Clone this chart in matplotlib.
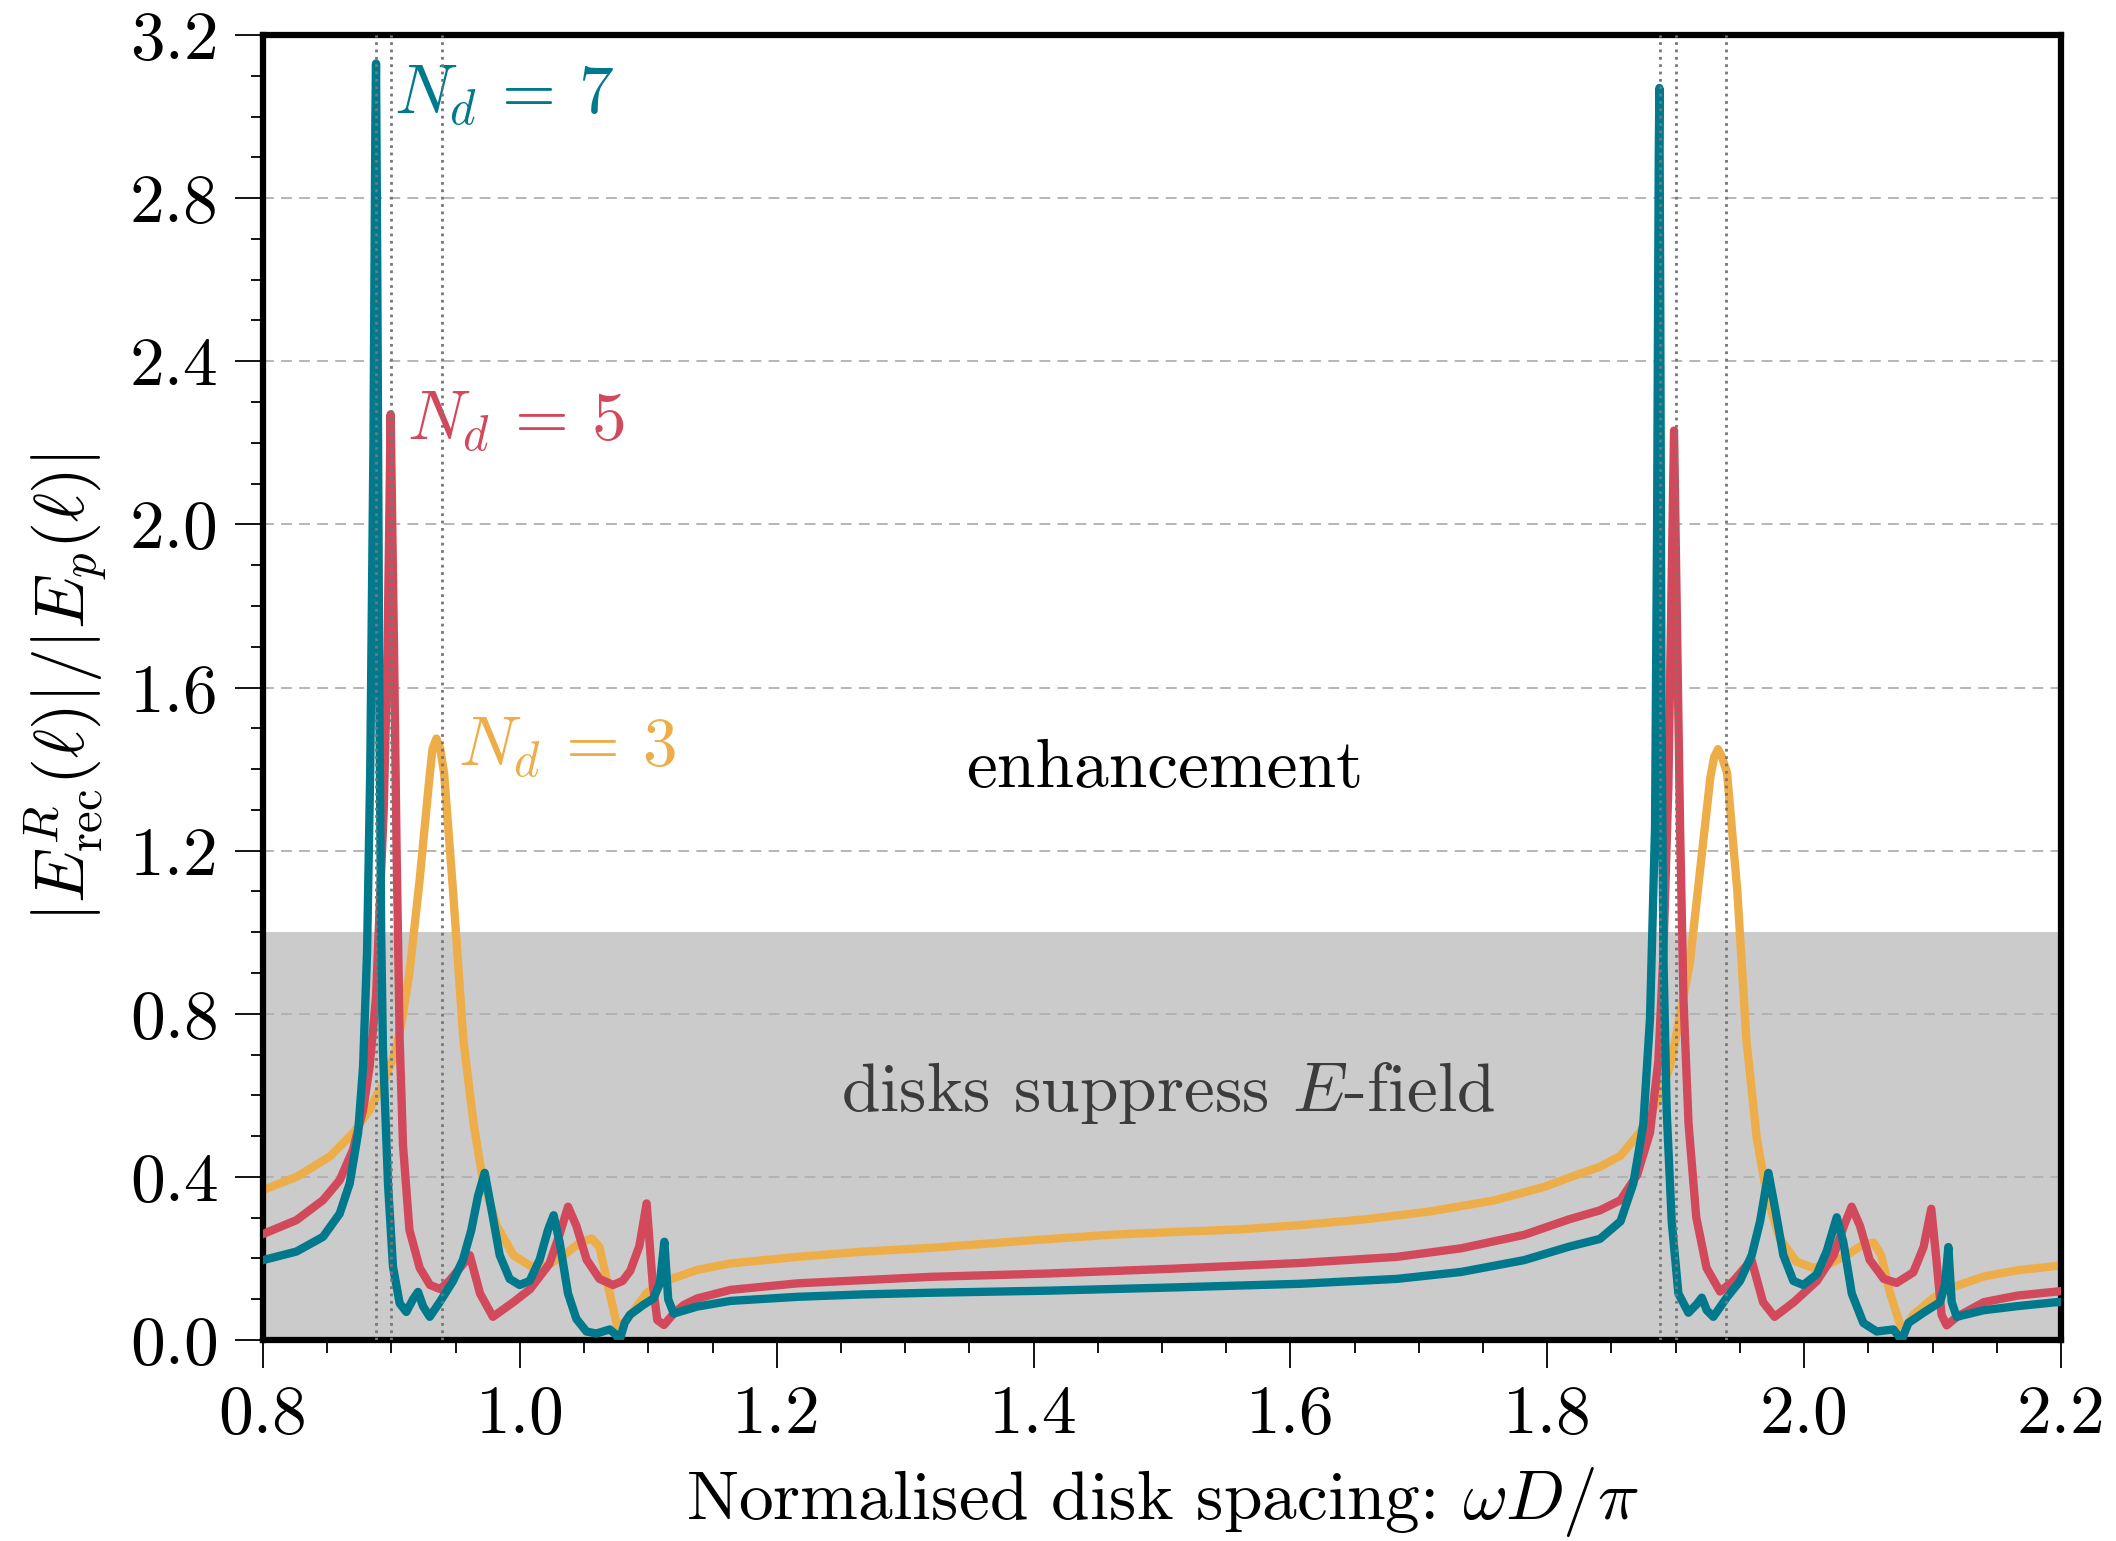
import numpy as np
import matplotlib
matplotlib.use("Agg")
import matplotlib.pyplot as plt

plt.rcParams['font.family'] = 'serif'
plt.rcParams['font.serif'] = ['cmr10']
plt.rcParams['mathtext.fontset'] = 'cm'
plt.rcParams['axes.formatter.use_mathtext'] = True

# N_d = 3
x_n3 = [0.800, 0.826, 0.852, 0.870, 0.883, 0.8934, 0.9025, 0.908, 0.914, 0.922, 0.929,
        0.932, 0.935, 0.938, 0.941, 0.948, 0.956, 0.964, 0.971, 0.982, 0.995, 1.008,
        1.021, 1.034, 1.047, 1.056, 1.062, 1.070, 1.076, 1.080, 1.0857, 1.0987, 1.1117,
        1.138, 1.164, 1.216, 1.268, 1.320, 1.400, 1.459, 1.509, 1.559, 1.608, 1.658,
        1.708, 1.758, 1.797, 1.822, 1.841, 1.857, 1.872, 1.885, 1.896, 1.903, 1.911,
        1.919, 1.927, 1.930, 1.933, 1.936, 1.940, 1.948, 1.955, 1.963, 1.971, 1.981,
        1.994, 2.007, 2.020, 2.033, 2.046, 2.054, 2.060, 2.067, 2.075, 2.079, 2.085,
        2.101, 2.116, 2.140, 2.166, 2.200]
y_n3 = [0.368, 0.400, 0.450, 0.507, 0.564, 0.630, 0.700, 0.780, 0.900, 1.130, 1.360,
        1.450, 1.475, 1.450, 1.390, 1.100, 0.737, 0.530, 0.395, 0.280, 0.208, 0.182,
        0.182, 0.208, 0.239, 0.249, 0.228, 0.114, 0.031, 0.040, 0.060, 0.115, 0.143,
        0.172, 0.188, 0.204, 0.217, 0.226, 0.245, 0.258, 0.265, 0.271, 0.282, 0.296,
        0.315, 0.342, 0.375, 0.404, 0.425, 0.452, 0.509, 0.580, 0.675, 0.790, 0.924,
        1.153, 1.380, 1.430, 1.449, 1.430, 1.390, 1.100, 0.737, 0.498, 0.353, 0.249,
        0.192, 0.177, 0.187, 0.208, 0.234, 0.239, 0.208, 0.114, 0.036, 0.031, 0.062,
        0.104, 0.130, 0.156, 0.171, 0.183]

# N_d = 5
x_n5 = [0.800, 0.826, 0.8467, 0.8597, 0.870, 0.8779, 0.883, 0.888, 0.892, 0.894, 0.897,
        0.8994, 0.902, 0.904, 0.9064, 0.909, 0.914, 0.922, 0.930, 0.938, 0.945, 0.956,
        0.961, 0.969, 0.979, 0.995, 1.008, 1.023, 1.031, 1.0375, 1.044, 1.052, 1.062,
        1.0725, 1.080, 1.086, 1.093, 1.0987, 1.1034, 1.107, 1.1122, 1.1198, 1.1276,
        1.138, 1.164, 1.216, 1.268, 1.320, 1.410, 1.509, 1.608, 1.683, 1.733, 1.782,
        1.817, 1.841, 1.857, 1.870, 1.880, 1.8865, 1.8904, 1.8943, 1.8987, 1.9034,
        1.906, 1.910, 1.916, 1.924, 1.9345, 1.945, 1.959, 1.968, 1.977, 1.992, 2.010,
        2.023, 2.031, 2.037, 2.0435, 2.051, 2.062, 2.072, 2.085, 2.093, 2.099, 2.103,
        2.107, 2.111, 2.119, 2.140, 2.166, 2.200]
y_n5 = [0.260, 0.294, 0.343, 0.392, 0.466, 0.564, 0.670, 0.841, 1.150, 1.300, 1.700,
        2.270, 1.700, 1.200, 0.737, 0.478, 0.270, 0.177, 0.135, 0.125, 0.145, 0.187,
        0.208, 0.114, 0.057, 0.093, 0.125, 0.187, 0.260, 0.327, 0.280, 0.197, 0.150,
        0.135, 0.145, 0.170, 0.230, 0.335, 0.139, 0.049, 0.037, 0.065, 0.086,
        0.102, 0.123, 0.139, 0.147, 0.155, 0.163, 0.175, 0.189, 0.204, 0.225, 0.258,
        0.296, 0.318, 0.343, 0.405, 0.509, 0.685, 0.945, 1.360, 2.230, 1.257,
        0.840, 0.530, 0.301, 0.177, 0.119, 0.145, 0.197, 0.093, 0.057, 0.093, 0.145,
        0.208, 0.280, 0.327, 0.280, 0.197, 0.150, 0.140, 0.166, 0.228, 0.322, 0.197,
        0.062, 0.036, 0.057, 0.093, 0.109, 0.120]

# N_d = 7
x_n7 = [0.800, 0.826, 0.8467, 0.8597, 0.8675, 0.874, 0.8779, 0.881, 0.8835, 0.886,
        0.8875, 0.888, 0.889, 0.8905, 0.892, 0.8934, 0.8973, 0.9012, 0.9064, 0.9116,
        0.9168, 0.9207, 0.9246, 0.9298, 0.9376, 0.948, 0.9557, 0.9622, 0.9674, 0.9726,
        0.9778, 0.9843, 0.992, 0.9998, 1.0076, 1.0154, 1.0219, 1.0263, 1.031, 1.0375,
        1.044, 1.0518, 1.0595, 1.070, 1.0738, 1.0777, 1.0816, 1.0857, 1.096, 1.104,
        1.109, 1.1125, 1.1155, 1.1198, 1.138, 1.164, 1.216, 1.268, 1.320, 1.410, 1.509,
        1.608, 1.683, 1.733, 1.782, 1.817, 1.841, 1.857, 1.867, 1.8748, 1.880, 1.8839,
        1.8855, 1.8868, 1.8873, 1.888, 1.889, 1.8904, 1.893, 1.8969, 1.9021, 1.9099,
        1.9164, 1.9203, 1.9242, 1.9293, 1.9397, 1.9501, 1.9592, 1.9657, 1.9722, 1.9774,
        1.9838, 1.9916, 1.9994, 2.0098, 2.0176, 2.0254, 2.0306, 2.0371, 2.0461, 2.0565,
        2.0695, 2.076, 2.0812, 2.0929, 2.1058, 2.1097, 2.1123, 2.1149, 2.1188, 2.1396,
        2.1655, 2.200]
y_n7 = [0.196, 0.217, 0.253, 0.310, 0.384, 0.507, 0.670, 0.950, 1.400, 2.200,
        3.000, 3.130, 2.600, 1.600, 1.000, 0.710, 0.384, 0.180, 0.090, 0.069,
        0.100, 0.118, 0.083, 0.057, 0.093, 0.145, 0.197, 0.270, 0.353, 0.410,
        0.322, 0.208, 0.150, 0.135, 0.145, 0.197, 0.270, 0.306, 0.239, 0.114,
        0.052, 0.021, 0.016, 0.026, 0.016, 0.000, 0.042, 0.062, 0.086, 0.102,
        0.139, 0.241, 0.100, 0.065, 0.082, 0.096, 0.106, 0.112, 0.116, 0.121, 0.129,
        0.138, 0.150, 0.167, 0.196, 0.229, 0.248, 0.291, 0.384, 0.530, 0.789, 1.257,
        2.000, 2.900, 3.070, 2.500, 1.500, 0.945, 0.560, 0.290, 0.114, 0.067,
        0.088, 0.104, 0.073, 0.057, 0.104, 0.145, 0.208, 0.291, 0.410, 0.322,
        0.208, 0.145, 0.135, 0.161, 0.218, 0.301, 0.239, 0.114, 0.042, 0.021,
        0.026, 0.000, 0.042, 0.067, 0.093, 0.135, 0.228, 0.093, 0.057, 0.073,
        0.083, 0.094]

resonances = [0.888, 0.900, 0.939, 1.888, 1.900, 1.939]

x_ticks = [0.8, 1.0, 1.2, 1.4, 1.6, 1.8, 2.0, 2.2]
y_ticks = [0.0, 0.4, 0.8, 1.2, 1.6, 2.0, 2.4, 2.8, 3.2]

c3, c5, c7 = '#edae49', '#d1495b', '#00798c'

fig = plt.figure(figsize=(21.16, 15.41), dpi=100)
ax = fig.add_axes([0.1243, 0.1304, 0.8497, 0.8469])

ax.axhspan(0, 1, color='#cbcbcb', lw=0, zorder=0)

ax.plot(x_n3, y_n3, color=c3, lw=6, zorder=2, solid_joinstyle='round')
ax.plot(x_n5, y_n5, color=c5, lw=6, zorder=3, solid_joinstyle='round')
ax.plot(x_n7, y_n7, color=c7, lw=6, zorder=4, solid_joinstyle='round')

for xr in resonances:
    ax.axvline(xr, color='#777777', lw=2, ls=':', zorder=5)

ax.set_xlim(0.8, 2.2)
ax.set_ylim(0, 3.2)
ax.set_xticks(x_ticks)
ax.set_xticklabels([f"{t:.1f}" for t in x_ticks])
ax.set_yticks(y_ticks)
ax.set_yticklabels([f"{t:.1f}" for t in y_ticks])
ax.set_xticks(np.arange(0.85, 2.2, 0.05), minor=True)
ax.set_yticks(np.arange(0.1, 3.2, 0.1), minor=True)
ax.tick_params(which='major', direction='out', length=20, width=1.3, labelsize=50, pad=12)
ax.tick_params(which='minor', direction='out', length=9, width=1.3)
for sp in ax.spines.values():
    sp.set_linewidth(4.5)

ax.set_axisbelow('line')
ax.yaxis.grid(True, ls=(0, (6, 4)), color='#b0b0b0', lw=1.3)

ax.set_xlabel(r'Normalised disk spacing: $\omega D/\pi$', fontsize=50, labelpad=14)
ax.set_ylabel(r'$|E^R_{\rm rec}(\ell)|/|E_p(\ell)|$', fontsize=50, labelpad=14)

ax.text(0.902, 3.05, r'$N_d\,=\,7$', color=c7, fontsize=50, ha='left', va='center')
ax.text(0.9125, 2.25, r'$N_d\,=\,5$', color=c5, fontsize=50, ha='left', va='center')
ax.text(0.952, 1.45, r'$N_d\,=\,3$', color=c3, fontsize=50, ha='left', va='center')
ax.text(1.502, 1.40, 'enhancement', fontsize=50, ha='center', va='center')
ax.text(1.505, 0.606, r'disks suppress $E$-field', fontsize=50, color='#3c3c3c',
        ha='center', va='center')

fig.savefig('out.png', dpi=100)
